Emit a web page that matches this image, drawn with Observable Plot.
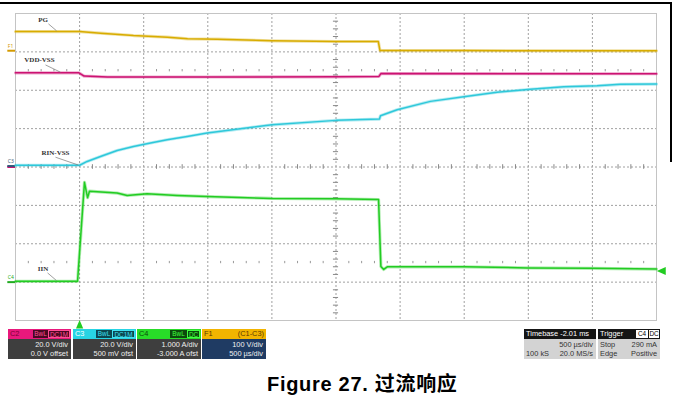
<!DOCTYPE html>
<html>
<head>
<meta charset="utf-8">
<script src="https://cdn.jsdelivr.net/npm/d3@7"></script>
<script src="https://cdn.jsdelivr.net/npm/@observablehq/plot@0.6"></script>
<style>
  html, body { margin: 0; padding: 0; background: #fff; }
  #wrap { position: relative; width: 673px; height: 407px; overflow: hidden; font-family: "Liberation Sans", Arial, sans-serif; }
  #chart { position: absolute; left: 0; top: 0; }
  .topline { position: absolute; left: 0; top: 2px; width: 672px; height: 2px; background: #000; }
  .rightline { position: absolute; left: 670px; top: 2px; width: 2px; height: 160px; background: #000; }
  .panel { position: absolute; top: 329px; height: 30px; font-size: 7.4px; }
  .hd { position: relative; height: 10px; line-height: 10px; }
  .bd { position: relative; height: 20px; }
  .nm { position: absolute; left: 2px; top: 0; }
  .nmr { position: absolute; right: 2px; top: 0; }
  .bx { position: absolute; top: 1px; height: 8px; line-height: 8px; text-align: center; font-size: 6.4px; box-sizing: border-box; }
  .r1 { position: absolute; right: 3px; top: 1px; line-height: 10px; }
  .r2 { position: absolute; right: 3px; top: 10px; line-height: 10px; }
  .l1 { position: absolute; left: 2px; top: 1px; line-height: 10px; }
  .l2 { position: absolute; left: 2px; top: 10px; line-height: 10px; }
  .caption { position: absolute; left: 267px; top: 368px; font-size: 20px; letter-spacing: 0.7px; font-weight: bold; white-space: nowrap;
             font-family: "Liberation Sans", Arial, "Noto Sans CJK SC", sans-serif; color: #000; }
</style>
</head>
<body>
<div id="wrap">
  <div class="topline"></div>
  <div class="rightline"></div>
  <div id="chart"></div>

  <div class="panel" style="left:8px;width:63px">
    <div class="hd" style="background:#e8187c">
      <span class="nm" style="color:#7a0038">C2</span>
      <span class="bx" style="left:25px;width:15px;background:#4a0822;color:#ff4d95">BwL</span>
      <span class="bx" style="left:40px;width:22px;background:#4a0822;color:#ff4d95;border:1px solid #ff4d95">DC1M</span>
    </div>
    <div class="bd" style="background:#3e3e3e;color:#eee">
      <div class="r1">20.0 V/div</div><div class="r2">0.0 V offset</div>
    </div>
  </div>

  <div class="panel" style="left:73px;width:63px">
    <div class="hd" style="background:#28d4e4">
      <span class="nm" style="color:#fff">C3</span>
      <span class="bx" style="left:23px;width:16px;background:#0c4650;color:#3fe0f0">BwL</span>
      <span class="bx" style="left:39px;width:23px;background:#0c4650;color:#3fe0f0;border:1px solid #3fe0f0">DC1M</span>
    </div>
    <div class="bd" style="background:#3e3e3e;color:#eee">
      <div class="r1">20.0 V/div</div><div class="r2">500 mV ofst</div>
    </div>
  </div>

  <div class="panel" style="left:137px;width:64px">
    <div class="hd" style="background:#28dc28">
      <span class="nm" style="color:#0a4a0a">C4</span>
      <span class="bx" style="left:33px;width:17px;background:#0c4a0c;color:#40ff40">BwL</span>
      <span class="bx" style="left:50px;width:13px;background:#0c4a0c;color:#40ff40;border:1px solid #40ff40">DC</span>
    </div>
    <div class="bd" style="background:#3e3e3e;color:#eee">
      <div class="r1">1.000 A/div</div><div class="r2">-3.000 A ofst</div>
    </div>
  </div>

  <div class="panel" style="left:202px;width:64px">
    <div class="hd" style="background:#f2b400">
      <span class="nm" style="color:#5a3a00">F1</span>
      <span class="nmr" style="color:#5a3a00">(C1-C3)</span>
    </div>
    <div class="bd" style="background:#1f3b63;color:#f0f0f0">
      <div class="r1">100 V/div</div><div class="r2">500 µs/div</div>
    </div>
  </div>

  <div class="panel" style="left:524px;width:72px">
    <div class="hd" style="background:#151515;color:#fff">
      <span class="nm">Timebase -2.01 ms</span>
    </div>
    <div class="bd" style="background:#d3d3d3;color:#333">
      <div class="r1">500 µs/div</div><div class="l2">100 kS</div><div class="r2">20.0 MS/s</div>
    </div>
  </div>

  <div class="panel" style="left:598px;width:62px">
    <div class="hd" style="background:#151515;color:#fff">
      <span class="nm">Trigger</span>
      <span class="bx" style="left:38px;width:12px;background:#fff;color:#000">C4</span>
      <span class="bx" style="left:50px;width:11px;background:#fff;color:#000;border-left:1px solid #151515">DC</span>
    </div>
    <div class="bd" style="background:#d3d3d3;color:#333">
      <div class="l1">Stop</div><div class="r1">290 mA</div>
      <div class="l2">Edge</div><div class="r2">Positive</div>
    </div>
  </div>

  <div class="caption">Figure 27. 过流响应</div>
</div>

<script>
// ---- Data (time in µs relative to trigger; values in channel units) ----
const timeF1 = [-500, 0, 163, 420, 686, 842, 1076, 1501, 2001, 2330, 2343, 3000, 4500];
const valF1  = [50.0, 50.0, 45.8, 39.6, 35.4, 31.0, 30.2, 25.8, 24.0, 24.0, 0.5, 0.3, -0.3];   // V (PG, C1-C3)

const timeC2 = [-500, -5, 35, 217, 1000, 2000, 2335, 2350, 4500];
const valC2  = [49.1, 49.1, 47.4, 46.9, 46.9, 47.0, 47.2, 48.7, 48.6];                     // V (VDD-VSS)

const timeC3 = [-500, 0, 59, 163, 293, 420, 553, 683, 839, 995, 1501, 2001, 2339, 2347, 2477, 2737, 2997, 3257, 3517, 3777, 4037, 4219, 4500];
const valC3  = [0.4, 0.4, 2.4, 5.0, 8.1, 10.2, 12.0, 13.7, 15.4, 17.2, 21.5, 23.8, 24.5, 26.2, 29.3, 33.7, 36.1, 38.5, 40.0, 41.3, 41.8, 42.6, 42.7]; // V (RIN-VSS)

const timeC4 = [-500, -16, 38, 62, 77, 293, 371, 526, 760, 995, 1501, 2001, 2332, 2350, 2372, 2400, 3000, 3494, 4000, 4500];
const valC4  = [0.02, 0.02, 2.60, 2.20, 2.37, 2.32, 2.26, 2.30, 2.26, 2.23, 2.18, 2.17, 2.15, 0.41, 0.33, 0.40, 0.40, 0.37, 0.36, 0.34]; // A (IIN)

// channel settings: units per division and offset (channel units)
const chNames  = ["C2", "F1", "C3", "C4"];
const chScale  = [20, 100, 20, 1];
const chOffset = [0, 303, 0.5, -3];
const chColor  = ["#cc1272", "#d8ac00", "#2ec8da", "#22cc22"];
const chMarkerText = ["", "F1", "C3", "C4"];
const chMarkerColor = ["#cc1272", "#d49a00", "#335577", "#22aa22"];

const traceLabels = ["VDD-VSS", "PG", "RIN-VSS", "IIN"];
const labelT  = [-313, -285, -188, -285];
const labelY  = [2.79, 3.85, 0.37, -2.65];
const leaderT1 = [-266, -243, -188, -250];
const leaderY1 = [2.66, 3.73, 0.255, -2.76];
const leaderT2 = [-149, -180, -9, -180];
const leaderY2 = [2.47, 3.55, 0.05, -2.96];

const triggerTime = 0;        // µs
const triggerLevel = 0.29;    // A on C4 (290 mA)

// axes (oscilloscope graticule): 10 x 500 µs, 8 vertical divisions
const xGrid = d3.range(-500, 4501, 500);
const yGrid = d3.range(-4, 4.01, 1);
const xMinor = d3.range(-500, 4501, 100).filter(v => v % 500 !== 0);
const yMinor = d3.range(-4, 4.001, 0.2).map(v => +v.toFixed(2)).filter(v => Math.abs(v - Math.round(v)) > 1e-6);

// ---- build tables ----
const times = [timeC2, timeF1, timeC3, timeC4];
const vals = [valC2, valF1, valC3, valC4];
const traces = chNames.map((ch, i) => times[i].map((t, j) => ({
  ch, t, div: (vals[i][j] + chOffset[i]) / chScale[i]
})));
const labels = traceLabels.map((text, i) => ({
  text, t: labelT[i], y: labelY[i], t1: leaderT1[i], y1: leaderY1[i], t2: leaderT2[i], y2: leaderY2[i]
}));
const markers = chNames.map((ch, i) => ({ ch, text: chMarkerText[i], color: chMarkerColor[i], div: chOffset[i] / chScale[i] }));

const leftTri = { draw(ctx, size) { const r = Math.sqrt(size / 2); ctx.moveTo(-r, 0); ctx.lineTo(r, -r * 0.9); ctx.lineTo(r, r * 0.9); ctx.closePath(); } };
const upTri = { draw(ctx, size) { const r = Math.sqrt(size / 2); ctx.moveTo(0, -r); ctx.lineTo(r * 0.85, r); ctx.lineTo(-r * 0.85, r); ctx.closePath(); } };

const traceMarks = [];
traces.forEach((data, i) => {
  traceMarks.push(Plot.line(data, { x: "t", y: "div", stroke: chColor[i], strokeWidth: 3.2, strokeOpacity: 0.35 }));
  traceMarks.push(Plot.line(data, { x: "t", y: "div", stroke: chColor[i], strokeWidth: 1.5 }));
});

const chart = Plot.plot({
  width: 673,
  height: 330,
  marginLeft: 15,
  marginRight: 17,
  marginTop: 13,
  marginBottom: 10,
  style: { background: "transparent", overflow: "visible" },
  x: { domain: [-500, 4500], axis: null },
  y: { domain: [-4, 4], axis: null },
  marks: [
    Plot.ruleX(xGrid.slice(1, -1), { stroke: "#a0a0a0", strokeDasharray: "2,2" }),
    Plot.ruleY(yGrid.slice(1, -1), { stroke: "#a0a0a0", strokeDasharray: "2,2" }),
    Plot.frame({ stroke: "#c4c4c4" }),
    Plot.ruleX(xMinor, { y1: -0.06, y2: 0.06, stroke: "#888" }),
    Plot.ruleY(yMinor, { x1: 2000 - 20, x2: 2000 + 20, stroke: "#888" }),
    Plot.ruleX(xMinor, { y1: 2.48, y2: 2.54, stroke: "#999" }),
    Plot.ruleX(xMinor, { y1: -2.52, y2: -2.46, stroke: "#999" }),
    // channel ground markers on the left
    Plot.ruleY(markers, { y: "div", x1: -560, x2: -500, stroke: "color", strokeWidth: 2 }),
    Plot.text(markers, { x: -560, y: d => d.div + 0.12, text: "text", fill: "color", fontSize: 5, textAnchor: "start" }),
    ...traceMarks,
    Plot.link(labels, { x1: "t1", y1: "y1", x2: "t2", y2: "y2", stroke: "#777", strokeWidth: 0.7 }),
    Plot.text(labels, { x: "t", y: "y", text: "text", fontSize: 7, fontWeight: "bold", fontFamily: "Liberation Serif", fill: "#333" }),
    // trigger level (right) and trigger position (bottom)
    Plot.dot([triggerLevel], { x: 4537, y: d => (d + chOffset[3]) / chScale[3], symbol: leftTri, r: 3.6, fill: "#22cc22", stroke: "none" }),
    Plot.dot([triggerTime], { x: d => d, y: -4.1, symbol: upTri, r: 3.4, fill: "#22cc22", stroke: "none" })
  ]
});
document.getElementById("chart").appendChild(chart);
</script>
</body>
</html>
